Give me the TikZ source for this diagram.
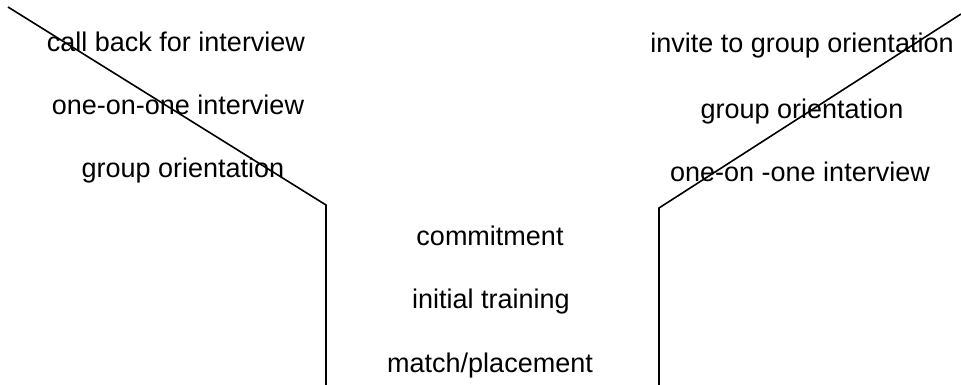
\documentclass[tikz,border=0pt]{standalone}
\usepackage{fontspec}
\setmainfont{Liberation Sans}
\begin{document}
\begin{tikzpicture}[x=1pt,y=-1pt,
  lbl/.style={anchor=base,inner sep=0pt,font=\fontsize{27}{30}\selectfont},
  wall/.style={line width=1.6pt,line join=miter}]
\useasboundingbox (0,0) rectangle (961,385);
% left side
\coordinate (lt) at (8,7);
\coordinate (lk) at (326,205);
\coordinate (lb) at (326,386);
% right side
\coordinate (rt) at (961,14);
\coordinate (rk) at (659,208);
\coordinate (rb) at (659,386);
\node[lbl] (l1) at (176,52) {call back for interview};
\node[lbl] (l2) at (178,115) {one-on-one interview};
\node[lbl] (l3) at (183,177) {group orientation};
\node[lbl] (r1) at (802,53) {invite to group orientation};
\node[lbl] (r2) at (802,119) {group orientation};
\node[lbl] (r3) at (800,182) {one-on -one interview};
\node[lbl] (c1) at (490,245) {commitment};
\node[lbl] (c2) at (491,308) {initial training};
\node[lbl] (c3) at (490,372) {match/placement};
\draw[wall] (lt) -- (lk) -- (lb);
\draw[wall] (rt) -- (rk) -- (rb);
\end{tikzpicture}
\end{document}
